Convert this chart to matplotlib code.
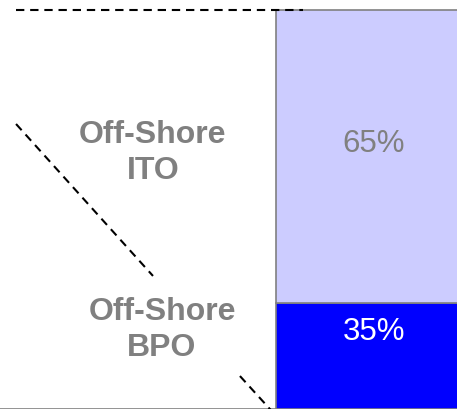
import matplotlib.pyplot as plt

# stacked share of off-shore work (percent)
segments = ["Off-Shore\nBPO", "Off-Shore\nITO"]
shares = [35, 65]
seg_colors = ["#0000FF", "#CCCCFF"]
value_colors = ["white", "#808080"]

# connector lines (x in bar units, y in percent)
connectors_x = [[-0.461, 0.710], [-0.461, 0.098], [0.453, 0.600]]
connectors_y = [[100.0, 100.0], [74.7, 41.0], [18.8, 10.0]]

value_y = [28.6, 70.3]
name_y = [29.0, 68.2]
name_x = [0.135, 0.098]
bar_x = 1.0
bar_w = 0.8

plt.rcParams["font.family"] = ["Liberation Sans", "DejaVu Sans"]

fig = plt.figure(figsize=(4.57, 4.09), dpi=100)
ax = fig.add_axes([0, 0, 1, 1])

bottom = 0
for share, color, tcolor, ly in zip(shares, seg_colors, value_colors, value_y):
    ax.bar(bar_x, share, bottom=bottom, width=bar_w, color=color,
           edgecolor="#808080", linewidth=1.2, zorder=2)
    ax.text(bar_x, ly, f"{share}%", ha="center", va="center",
            fontsize=22.5, color=tcolor, zorder=3)
    bottom += share

# category labels to the left of the bar
for name, lx, ly in zip(segments, name_x, name_y):
    ax.text(lx, ly, name, ha="center", va="center", fontsize=23,
            fontweight="bold", color="#808080", linespacing=1.25)

for cx, cy in zip(connectors_x, connectors_y):
    ax.plot(cx, cy, color="black", linewidth=1.5,
            linestyle=(0, (4.0, 2.8)), zorder=4)

ax.set_xlim(-0.5265, 1.339)
ax.set_ylim(11.49, 102.2)
for side in ["top", "left", "right"]:
    ax.spines[side].set_visible(False)
ax.spines["bottom"].set_color("#808080")
ax.spines["bottom"].set_linewidth(1.2)
ax.set_xticks([])
ax.set_yticks([])

fig.savefig("out.png", dpi=100)
